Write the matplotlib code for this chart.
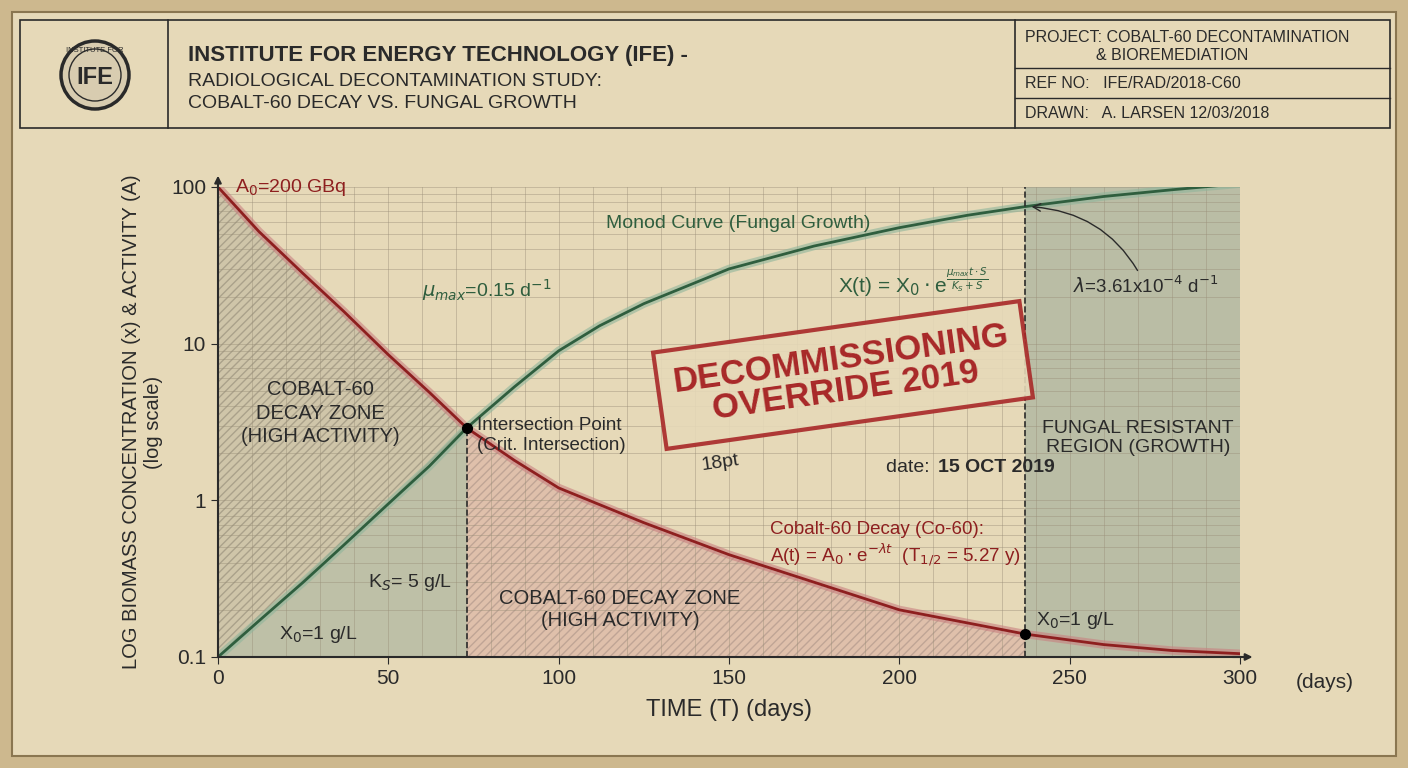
import numpy as np
import matplotlib.pyplot as plt
from matplotlib.patches import Rectangle, Ellipse

plt.rcParams["font.family"] = ["Liberation Sans", "DejaVu Sans"]
plt.rcParams["mathtext.fontset"] = "dejavusans"

t_red = [0, 12, 25, 37, 50, 62, 73, 87, 100, 125, 150, 175, 200, 220, 237, 260, 280, 300]
a_red = [100, 52, 28, 16, 8.5, 4.9, 2.9, 1.8, 1.2, 0.72, 0.45, 0.3, 0.2, 0.165, 0.14,
         0.12, 0.11, 0.105]
t_grn = [0, 12, 25, 37, 50, 62, 73, 87, 100, 112, 125, 150, 175, 200, 220, 237, 260, 280, 300]
x_grn = [0.1, 0.17, 0.3, 0.52, 0.95, 1.65, 2.9, 5.3, 9, 13, 18, 30, 42, 55, 66, 75, 87, 96, 105]
t_cross, y_cross = 73, 2.9
t_x0, y_x0 = 237, 0.14
xticks = [0, 50, 100, 150, 200, 250, 300]
yticks = [0.1, 1, 10, 100]
yticklabels = ["0.1", "1", "10", "100"]

W, H = 1408, 768
paper = "#e6d9b8"
ink = "#2a2a2a"
red = "#8e1f1f"
green = "#2f5e3e"

fig = plt.figure(figsize=(W / 100, H / 100), dpi=100)
fig.patch.set_facecolor("#cdb88e")
fig.add_artist(Rectangle((12 / W, 12 / H), 1 - 24 / W, 1 - 24 / H, zorder=-5,
                         transform=fig.transFigure, fc=paper, ec="#8a7650", lw=1.5))


def fx(px):
    return px / W


def fy(py):
    return 1 - py / H


# title block
fig.add_artist(Rectangle((fx(20), fy(128)), fx(1370), 108 / H, transform=fig.transFigure,
                         fill=False, ec=ink, lw=1.2))
for x in (168, 1015):
    fig.add_artist(plt.Line2D([fx(x), fx(x)], [fy(20), fy(128)], color=ink, lw=1.2))
for y in (68, 98):
    fig.add_artist(plt.Line2D([fx(1015), fx(1390)], [fy(y), fy(y)], color=ink, lw=1))
fig.add_artist(Ellipse((fx(95), fy(75)), 68 / W, 68 / H, transform=fig.transFigure,
                       fc="#d8ccb0", ec=ink, lw=2.5))
fig.add_artist(Ellipse((fx(95), fy(75)), 52 / W, 52 / H, transform=fig.transFigure,
                       fc="none", ec=ink, lw=1))
fig.text(fx(95), fy(77), "IFE", ha="center", va="center", fontsize=17, weight="bold", color=ink)
fig.text(fx(95), fy(50), "INSTITUTE FOR", ha="center", va="center", fontsize=5.5, color=ink)
fig.text(fx(188), fy(55), "INSTITUTE FOR ENERGY TECHNOLOGY (IFE) -", fontsize=16,
         weight="bold", color=ink, va="center")
fig.text(fx(188), fy(81), "RADIOLOGICAL DECONTAMINATION STUDY:", fontsize=14, color=ink, va="center")
fig.text(fx(188), fy(103), "COBALT-60 DECAY VS. FUNGAL GROWTH", fontsize=14, color=ink, va="center")
fig.text(fx(1025), fy(38), "PROJECT: COBALT-60 DECONTAMINATION", fontsize=11.5, color=ink, va="center")
fig.text(fx(1096), fy(56), "& BIOREMEDIATION", fontsize=11.5, color=ink, va="center")
fig.text(fx(1025), fy(84), "REF NO:   IFE/RAD/2018-C60", fontsize=11.5, color=ink, va="center")
fig.text(fx(1025), fy(114), "DRAWN:   A. LARSEN 12/03/2018", fontsize=11.5, color=ink, va="center")

ax = fig.add_axes([fx(218), fy(657), fx(1240 - 218), (657 - 187) / H])
ax.set_facecolor("none")
ax.set_yscale("log")
ax.set_xlim(0, 300)
ax.set_ylim(0.1, 100)
ax.set_xticks(xticks)
ax.set_yticks(yticks)
ax.set_yticklabels(yticklabels)
ax.set_xticks(np.arange(0, 301, 10), minor=True)
ax.grid(True, which="both", color="#9a8f78", lw=0.5, alpha=0.6)
for s in ("top", "right"):
    ax.spines[s].set_visible(False)
for s in ("left", "bottom"):
    ax.spines[s].set_color(ink)
    ax.spines[s].set_linewidth(1.5)
ax.tick_params(labelsize=15, colors=ink, length=5)
ax.tick_params(which="minor", length=0)
ax.annotate("", xy=(1.015, 0), xytext=(0.99, 0), xycoords="axes fraction",
            arrowprops=dict(arrowstyle="-|>", color=ink, lw=1.5), annotation_clip=False)
ax.annotate("", xy=(0, 1.03), xytext=(0, 0.99), xycoords="axes fraction",
            arrowprops=dict(arrowstyle="-|>", color=ink, lw=1.5), annotation_clip=False)

m1 = np.array(t_red) <= t_cross
m2 = (np.array(t_red) >= t_cross) & (np.array(t_red) <= t_x0)
tr, ar, xg = np.array(t_red), np.array(a_red), np.array(x_grn)[[t in t_red for t in t_grn]]
ax.fill_between(tr[m1], xg[m1], ar[m1], color="#b3ad98", alpha=0.45,
                hatch="////", edgecolor="#7d7766", lw=0)
ax.fill_between(tr[m1], 0.1, xg[m1], color="#8fa393", alpha=0.45, lw=0)
ax.fill_between(tr[m2], 0.1, ar[m2], color="#d9a9a0", alpha=0.5,
                hatch="////", edgecolor="#a08a80", lw=0)
ax.axvspan(t_x0, 300, color="#8fa393", alpha=0.5, lw=0)
ax.plot(t_red, a_red, color="#c98080", lw=6, alpha=0.6)
ax.plot(t_red, a_red, color=red, lw=2)
ax.plot(t_grn, x_grn, color="#8fb59b", lw=6, alpha=0.6)
ax.plot(t_grn, x_grn, color=green, lw=2)
ax.plot([t_cross, t_cross], [0.1, y_cross], ls="--", color=ink, lw=1.2)
ax.plot([t_x0, t_x0], [0.1, 100], ls="--", color=ink, lw=1.2)
ax.plot([t_cross, t_x0], [y_cross, y_x0], "o", color="black", ms=7, ls="none")

ax.set_xlabel("TIME (T) (days)", fontsize=17, color=ink, labelpad=8)
ax.set_ylabel("LOG BIOMASS CONCENTRATION (x) & ACTIVITY (A)\n(log scale)",
              fontsize=14.5, color=ink, labelpad=6)
fig.text(fx(1325), fy(683), "(days)", fontsize=15, color=ink, ha="center", va="center")

ax.text(5, 100, r"A$_0$=200 GBq", color=red, fontsize=14, va="center")
ax.text(114, 55, "Monod Curve (Fungal Growth)", color=green, fontsize=14)
ax.text(60, 20, r"$\mu_{max}$=0.15 d$^{-1}$", color=green, fontsize=14)
ax.text(182, 21, r"X(t) = X$_0\cdot$e$^{\frac{\mu_{max} t\cdot S}{K_S+S}}$", color=green, fontsize=15)
ax.annotate(r"$\lambda$=3.61x10$^{-4}$ d$^{-1}$", xy=(238, 75), xytext=(251, 21),
            fontsize=13.5, color=ink, arrowprops=dict(arrowstyle="->", color=ink,
                                                      connectionstyle="arc3,rad=0.3"))
ax.text(30, 3.6, "COBALT-60\nDECAY ZONE\n(HIGH ACTIVITY)", ha="center", va="center",
        fontsize=14.5, color=ink, linespacing=1.3)
ax.text(76, 2.6, "Intersection Point\n(Crit. Intersection)", fontsize=13.5, color=ink,
        va="center", zorder=5)
ax.text(118, 0.2, "COBALT-60 DECAY ZONE\n(HIGH ACTIVITY)", ha="center", va="center",
        fontsize=14.5, color=ink)
ax.text(162, 0.52, "Cobalt-60 Decay (Co-60):\n" +
        r"A(t) = A$_0\cdot$e$^{-\lambda t}$  (T$_{1/2}$ = 5.27 y)",
        fontsize=13.5, color=red, va="center")
ax.text(270, 2.5, "FUNGAL RESISTANT\nREGION (GROWTH)", ha="center", va="center",
        fontsize=14, color=ink)
ax.text(44, 0.28, r"K$_S$= 5 g/L", fontsize=14, color=ink)
ax.text(18, 0.13, r"X$_0$=1 g/L", fontsize=14, color=ink)
ax.text(240, 0.16, r"X$_0$=1 g/L", fontsize=14, color=ink)

fig.text(fx(843), fy(375), "DECOMMISSIONING\nOVERRIDE 2019", rotation=8, ha="center",
         va="center", fontsize=25, weight="bold", color="#a82828", linespacing=1.0,
         bbox=dict(boxstyle="square,pad=0.45", fc="#e6d9b8", alpha=0.9, ec="#a82828", lw=3))
fig.text(fx(700), fy(470), "18pt", rotation=8, fontsize=14, color=ink)
fig.text(fx(935), fy(467), "date: ", fontsize=14, color=ink, va="center", ha="right")
fig.text(fx(938), fy(467), "15 OCT 2019", fontsize=14, weight="bold", color=ink, va="center")

fig.savefig("out.png", dpi=100, facecolor=fig.get_facecolor())
